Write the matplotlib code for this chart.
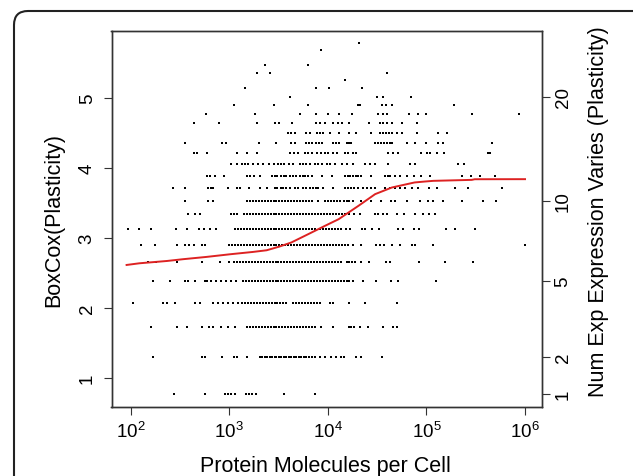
import numpy as np
import matplotlib
matplotlib.use('Agg')
import matplotlib.pyplot as plt
from matplotlib.patches import FancyBboxPatch
from matplotlib.transforms import IdentityTransform

plt.rcParams.update({
    'font.family': 'Liberation Sans',
    'mathtext.fontset': 'custom',
    'mathtext.rm': 'Liberation Sans',
    'mathtext.it': 'Liberation Sans:italic',
    'mathtext.bf': 'Liberation Sans:bold',
    'xtick.labelsize': 13.5,
    'ytick.labelsize': 13.5,
})

W, H = 633, 477
LAMBDA = 0.305

# log10(protein molecules per cell), one list per plasticity count
logx_p1 = [2.44, 2.76, 2.96, 2.99, 3.02, 3.06, 3.17, 3.20, 3.23, 3.27, 3.56, 3.87]
logx_p2 = [2.23, 2.72, 2.75, 2.93, 3.05, 3.08, 3.18, 3.31, 3.33, 3.36, 3.38, 3.41,
           3.43, 3.46, 3.48, 3.51, 3.53, 3.56, 3.58, 3.61, 3.63, 3.66, 3.68, 3.71,
           3.73, 3.76, 3.78, 3.81, 3.84, 3.87, 3.92, 3.97, 4.03, 4.08, 4.13, 4.16,
           4.29, 4.34, 4.55]
logx_p3 = [2.21, 2.47, 2.57, 2.72, 2.80, 2.84, 2.92, 2.99, 3.06, 3.18, 3.21, 3.24,
           3.27, 3.30, 3.33, 3.36, 3.39, 3.42, 3.45, 3.48, 3.51, 3.54, 3.57, 3.60,
           3.63, 3.66, 3.69, 3.72, 3.75, 3.78, 3.81, 3.84, 3.87, 3.93, 4.05, 4.22,
           4.24, 4.27, 4.33, 4.41, 4.56, 4.66, 4.70]
logx_p4 = [2.02, 2.33, 2.37, 2.45, 2.65, 2.70, 2.84, 2.89, 2.94, 2.99, 3.04, 3.09,
           3.13, 3.16, 3.19, 3.22, 3.25, 3.28, 3.31, 3.34, 3.37, 3.40, 3.43, 3.46,
           3.49, 3.52, 3.55, 3.58, 3.65, 3.68, 3.71, 3.74, 3.77, 3.80, 3.83, 3.86,
           3.89, 3.92, 4.02, 4.05, 4.22, 4.38, 4.70]
logx_p5 = [2.23, 2.40, 2.55, 2.58, 2.65, 2.75, 2.78, 2.82, 2.87, 2.92, 2.97, 3.02,
           3.07, 3.14, 3.17, 3.20, 3.23, 3.26, 3.29, 3.32, 3.35, 3.38, 3.41, 3.44,
           3.47, 3.50, 3.53, 3.56, 3.59, 3.62, 3.65, 3.68, 3.71, 3.74, 3.77, 3.80,
           3.83, 3.86, 3.89, 3.92, 3.95, 3.98, 4.01, 4.04, 4.07, 4.10, 4.13, 4.16,
           4.19, 4.22, 4.26, 4.36, 4.49, 4.64, 4.71, 5.10]
logx_p6 = [2.18, 2.26, 2.47, 2.72, 2.91, 3.00, 3.05, 3.08, 3.11, 3.14, 3.17, 3.20,
           3.23, 3.26, 3.29, 3.32, 3.35, 3.38, 3.41, 3.44, 3.47, 3.50, 3.53, 3.56,
           3.59, 3.62, 3.65, 3.68, 3.71, 3.74, 3.77, 3.80, 3.83, 3.86, 3.89, 3.92,
           3.95, 3.98, 4.01, 4.04, 4.07, 4.10, 4.13, 4.19, 4.22, 4.25, 4.28, 4.34,
           4.42, 4.59, 4.63, 4.92, 5.19, 5.47]
logx_p7 = [2.11, 2.25, 2.47, 2.55, 2.59, 2.64, 2.72, 2.75, 3.00, 3.03, 3.06, 3.09,
           3.12, 3.15, 3.18, 3.21, 3.24, 3.27, 3.30, 3.33, 3.36, 3.39, 3.42, 3.45,
           3.48, 3.51, 3.54, 3.57, 3.60, 3.63, 3.66, 3.69, 3.72, 3.75, 3.78, 3.81,
           3.84, 3.87, 3.90, 3.93, 3.96, 3.99, 4.02, 4.05, 4.08, 4.11, 4.14, 4.17,
           4.20, 4.26, 4.34, 4.49, 4.53, 4.57, 4.65, 4.73, 4.85, 4.88, 5.07, 6.00]
logx_p8 = [1.97, 2.09, 2.21, 2.46, 2.57, 2.69, 2.74, 2.81, 2.87, 3.06, 3.09, 3.12,
           3.15, 3.18, 3.21, 3.24, 3.27, 3.30, 3.33, 3.36, 3.39, 3.42, 3.45, 3.48,
           3.51, 3.54, 3.57, 3.60, 3.63, 3.66, 3.69, 3.72, 3.75, 3.78, 3.81, 3.84,
           3.87, 3.92, 3.95, 3.98, 4.01, 4.04, 4.07, 4.10, 4.13, 4.18, 4.23, 4.35,
           4.38, 4.45, 4.52, 4.71, 4.76, 4.87, 4.92, 5.20, 5.29, 5.49]
logx_p9 = [2.58, 2.65, 2.70, 3.02, 3.05, 3.08, 3.15, 3.18, 3.21, 3.24, 3.27, 3.30,
           3.33, 3.36, 3.39, 3.42, 3.45, 3.48, 3.51, 3.54, 3.57, 3.60, 3.63, 3.66,
           3.69, 3.72, 3.75, 3.78, 3.81, 3.84, 3.87, 3.90, 3.93, 3.96, 3.99, 4.02,
           4.05, 4.08, 4.11, 4.14, 4.17, 4.22, 4.27, 4.33, 4.48, 4.51, 4.56, 4.60,
           4.70, 4.77, 4.88, 4.97, 5.03, 5.09]
logx_p10 = [2.55, 2.79, 2.84, 3.18, 3.21, 3.24, 3.27, 3.30, 3.33, 3.36, 3.39, 3.42,
            3.45, 3.48, 3.51, 3.54, 3.57, 3.60, 3.63, 3.66, 3.69, 3.72, 3.75, 3.78,
            3.81, 3.84, 3.90, 3.97, 4.00, 4.03, 4.06, 4.09, 4.12, 4.16, 4.19, 4.22,
            4.26, 4.34, 4.44, 4.54, 4.64, 4.68, 4.80, 4.94, 5.02, 5.07, 5.17, 5.36,
            5.57, 5.71]
logx_p11 = [2.43, 2.55, 2.79, 2.82, 2.84, 2.99, 3.08, 3.11, 3.20, 3.31, 3.38, 3.46,
            3.49, 3.53, 3.55, 3.58, 3.62, 3.67, 3.70, 3.75, 3.78, 3.82, 3.85, 3.88,
            3.90, 3.95, 4.05, 4.17, 4.20, 4.24, 4.27, 4.31, 4.36, 4.40, 4.44, 4.48,
            4.58, 4.63, 4.68, 4.73, 4.78, 4.85, 4.91, 5.03, 5.11, 5.29, 5.42, 5.77]
logx_p12 = [2.78, 2.81, 2.86, 2.95, 3.18, 3.21, 3.25, 3.31, 3.43, 3.46, 3.49, 3.53,
            3.56, 3.58, 3.62, 3.65, 3.68, 3.72, 3.75, 3.77, 3.80, 3.84, 3.94, 4.04,
            4.17, 4.20, 4.23, 4.26, 4.29, 4.31, 4.34, 4.44, 4.58, 4.61, 4.63, 4.68,
            4.73, 4.80, 4.87, 4.95, 5.04, 5.36, 5.45, 5.54, 5.70]
logx_p13 = [3.02, 3.08, 3.13, 3.16, 3.19, 3.24, 3.29, 3.34, 3.40, 3.45, 3.50, 3.53,
            3.56, 3.61, 3.65, 3.72, 3.75, 3.78, 3.82, 3.87, 3.90, 3.94, 3.99, 4.02,
            4.07, 4.14, 4.19, 4.26, 4.38, 4.43, 4.48, 4.61, 4.83, 4.88, 5.32, 5.38]
logx_p14 = [2.64, 2.67, 2.78, 3.08, 3.18, 3.28, 3.62, 3.66, 3.70, 3.77, 3.80, 3.84,
            3.89, 3.93, 3.97, 4.00, 4.05, 4.09, 4.17, 4.21, 4.26, 4.29, 4.61, 4.66,
            4.71, 4.95, 5.01, 5.04, 5.11, 5.18, 5.62, 5.64]
logx_p15 = [2.55, 2.93, 2.97, 3.30, 3.47, 3.63, 3.67, 3.78, 3.81, 3.84, 3.88, 3.91,
            3.94, 4.05, 4.08, 4.11, 4.19, 4.22, 4.24, 4.48, 4.51, 4.54, 4.57, 4.60,
            4.63, 4.65, 4.80, 4.88, 5.00, 5.12, 5.17, 5.67]
logx_p16 = [3.60, 3.63, 3.67, 3.78, 3.82, 3.89, 3.92, 3.95, 4.02, 4.11, 4.22, 4.29,
            4.44, 4.53, 4.56, 4.59, 4.62, 4.65, 4.70, 4.75, 4.90, 5.12, 5.21]
logx_p17 = [2.64, 2.90, 3.28, 3.46, 3.51, 3.64, 3.88, 3.92, 3.97, 4.05, 4.10, 4.14,
            4.22, 4.42, 4.53, 4.56, 4.60, 4.65, 4.75, 4.90]
logx_p18 = [2.77, 3.26, 3.72, 3.88, 4.00, 4.11, 4.25, 4.51, 4.56, 4.60, 4.82, 4.91,
            5.00, 5.46, 5.94]
logx_p19 = [3.05, 3.45, 3.80, 4.31, 4.33, 4.55, 4.59, 4.65, 5.28]
logx_p20 = [3.62, 4.50, 4.56, 4.84]
logx_p21 = [3.16, 3.88, 4.01, 4.35]
logx_p22 = [4.17]
logx_p23 = [3.28, 3.41, 4.60]
logx_p24 = [3.36, 3.80]
logx_p26 = [3.93]
logx_p27 = [4.32]

rows = [(1, logx_p1), (2, logx_p2), (3, logx_p3), (4, logx_p4), (5, logx_p5),
        (6, logx_p6), (7, logx_p7), (8, logx_p8), (9, logx_p9), (10, logx_p10),
        (11, logx_p11), (12, logx_p12), (13, logx_p13), (14, logx_p14),
        (15, logx_p15), (16, logx_p16), (17, logx_p17), (18, logx_p18),
        (19, logx_p19), (20, logx_p20), (21, logx_p21), (22, logx_p22),
        (23, logx_p23), (24, logx_p24), (26, logx_p26), (27, logx_p27)]

# smoothed trend (red line)
curve_logx = [1.96, 2.09, 2.37, 2.53, 2.77, 3.01, 3.24, 3.38, 3.51, 3.63, 3.80,
              3.97, 4.11, 4.31, 4.48, 4.65, 4.88, 4.99, 5.07, 5.46, 5.49, 6.00]
curve_y = [2.615, 2.639, 2.672, 2.697, 2.730, 2.768, 2.801, 2.825, 2.878, 2.936,
           3.054, 3.173, 3.269, 3.459, 3.627, 3.722, 3.794, 3.808, 3.817, 3.831,
           3.840, 3.841]

left_ticks = [1, 2, 3, 4, 5]
right_ticks = [1, 2, 5, 10, 20]
x_ticks = [2, 3, 4, 5, 6]


def boxcox(p):
    return ((p + 1) ** LAMBDA - 1) / LAMBDA


fig = plt.figure(figsize=(W / 100, H / 100), dpi=100)
ax = fig.add_axes([111.5 / W, 1 - 408.3 / H, 430.2 / W, 376.0 / H])

for p, lx in rows:
    ax.plot(10 ** np.array(lx), np.full(len(lx), boxcox(p)), 's',
            ms=1.8, mew=0, color='black', zorder=2)

ax.plot(10 ** np.array(curve_logx), curve_y, color='#dd2222', lw=1.4, zorder=3)

ax.set_xscale('log')
ax.set_xlim(10 ** 1.807, 10 ** 6.169)
ax.set_ylim(0.581, 5.954)
ax.set_xticks([10.0 ** k for k in x_ticks])
ax.set_xticklabels([f'$10^{{{k}}}$' for k in x_ticks])
ax.xaxis.set_minor_locator(matplotlib.ticker.NullLocator())
ax.set_yticks(left_ticks)
ax.set_yticklabels([str(v) for v in left_ticks], rotation=90, va='center')

for sp in ax.spines.values():
    sp.set_color('#333333')
    sp.set_linewidth(1.0)
ax.tick_params(axis='x', direction='out', length=5.8, width=0.8, color='#333333',
               pad=4, labelsize=13.5)
ax.tick_params(axis='y', direction='out', length=5.8, width=0.8, color='#333333',
               pad=5.5, labelsize=13.5)

ax2 = ax.twinx()
ax2.set_ylim(ax.get_ylim())
ax2.set_yticks([boxcox(p) for p in right_ticks])
ax2.set_yticklabels([str(p) for p in right_ticks], rotation=90, va='center')
ax2.tick_params(axis='y', direction='out', length=5.8, width=0.8, color='#333333',
                pad=3.5, labelsize=13.5)
for sp in ax2.spines.values():
    sp.set_color('#333333')
    sp.set_linewidth(1.0)

fig.text(325.5 / W, 4.5 / H, 'Protein Molecules per Cell', ha='center',
         va='baseline', fontsize=15.5)
fig.text(59.4 / W, (H - 220) / H, 'BoxCox(Plasticity)', rotation=90,
         rotation_mode='anchor', ha='center', va='baseline', fontsize=15.5)
fig.text(604 / W, (H - 211.5) / H, 'Num Exp Expression Varies (Plasticity)',
         rotation=90, rotation_mode='anchor', ha='center', va='baseline',
         fontsize=15.5)

# outer rounded frame, running off the right and bottom edges
frame = FancyBboxPatch((14, -40), 700, 465 + 40,
                       boxstyle='round,pad=0,rounding_size=14',
                       transform=IdentityTransform(), fill=False,
                       ec='#222222', lw=1.5)
fig.add_artist(frame)

fig.savefig('out.png', dpi=100, facecolor='white')
